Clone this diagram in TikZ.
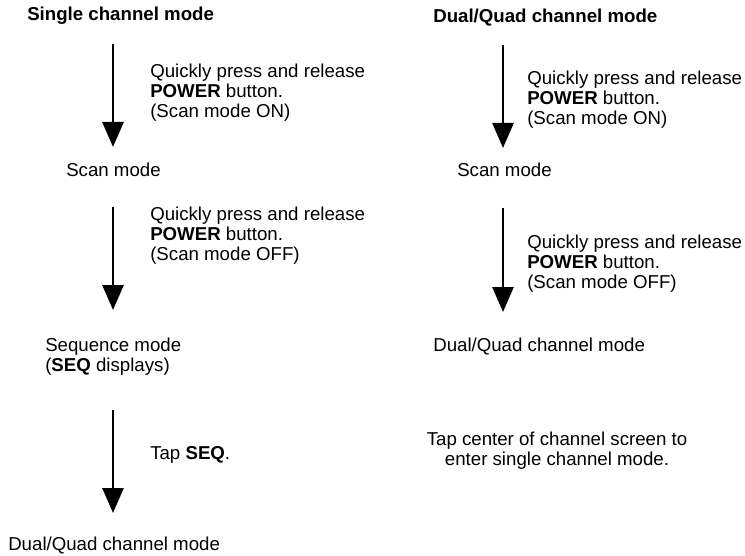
\documentclass[tikz,border=0pt]{standalone}
\usepackage{fontspec}
\setmainfont{Liberation Sans}
\usetikzlibrary{arrows.meta}
\tikzset{
  lbl/.style={anchor=west, inner sep=0pt, align=left, font=\fontsize{14}{15}\selectfont},
  ttl/.style={lbl, font=\fontsize{14}{15}\selectfont\bfseries},
  flow/.style={-{Triangle[width=15.75pt,length=18.75pt]}, line width=2pt}
}
\begin{document}
\begin{tikzpicture}[x=0.75pt,y=-0.75pt]
      \useasboundingbox (0,0) rectangle (745,556);
      % left column
      \node[ttl] (single) at (27,16) {Single channel mode};
      \node[lbl] (sstep1) at (150,93) {Quickly press and release\\\textbf{POWER} button.\\(Scan mode ON)};
      \node[lbl] (sscan) at (66,170) {Scan mode};
      \node[lbl] (sstep2) at (150,236) {Quickly press and release\\\textbf{POWER} button.\\(Scan mode OFF)};
      \node[lbl] (sseq) at (45,357) {Sequence mode\\(\textbf{SEQ} displays)};
      \node[lbl] (stap) at (150,455) {Tap \textbf{SEQ}.};
      \node[lbl] (sdual) at (8,545) {Dual/Quad channel mode};
      % right column
      \node[ttl] (dual) at (433,18) {Dual/Quad channel mode};
      \node[lbl] (rstep1) at (527,100) {Quickly press and release\\\textbf{POWER} button.\\(Scan mode ON)};
      \node[lbl] (rscan) at (457,170) {Scan mode};
      \node[lbl] (rstep2) at (527,264) {Quickly press and release\\\textbf{POWER} button.\\(Scan mode OFF)};
      \node[lbl] (rdual) at (433,346) {Dual/Quad channel mode};
      \node[lbl, anchor=center, align=center] (rtap) at (557,451) {Tap center of channel screen to\\enter single channel mode.};
      % arrows: id / x / top / tip
      \def \Arrows{
        1/113/44/147,
        2/113/207/310,
        3/113/410/513,
        4/503/45/148,
        5/503/208/312}
      \foreach \id / \x / \ya / \yb in \Arrows{
        \coordinate (top\id) at (\x, \ya);
        \coordinate (tip\id) at (\x, \yb);
        \path[draw,flow] (top\id) -- (tip\id);
      }
    \end{tikzpicture}
\end{document}
